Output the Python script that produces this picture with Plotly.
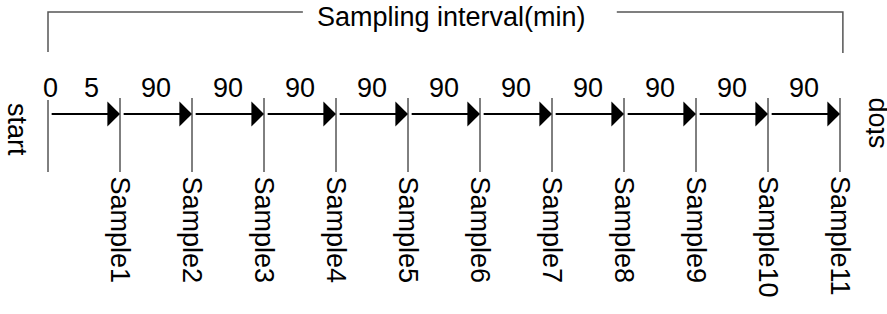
import plotly.graph_objects as go

# ---- data ----
sample_names = ["Sample1", "Sample2", "Sample3", "Sample4", "Sample5", "Sample6",
                "Sample7", "Sample8", "Sample9", "Sample10", "Sample11"]
interval_labels = ["5", "90", "90", "90", "90", "90", "90", "90", "90", "90", "90"]
start_label = "0"
title_text = "Sampling interval(min)"
end_labels = ["start", "stop"]

FONT = "Liberation Sans, Arial, sans-serif"
FS = 27

n = len(sample_names)
xs = list(range(n + 1))          # 0 = start, 1..n = samples
Y_ARROW = 114

fig = go.Figure()

# start tick line and sample tick lines
lx, ly = [], []
lx += [0, 0, None]; ly += [100, 172, None]
for i in range(1, n + 1):
    lx += [i, i, None]; ly += [98, 172, None]
fig.add_trace(go.Scatter(x=lx, y=ly, mode="lines",
                         line=dict(color="black", width=1), hoverinfo="skip"))

# bracket
xr = n + 0.04
gapL, gapR = 3.54, 7.9
fig.add_trace(go.Scatter(x=[0, 0, gapL, None, gapR, xr, xr],
                         y=[52, 12, 12, None, 12, 12, 53], mode="lines",
                         line=dict(color="#555555", width=1.5), hoverinfo="skip"))

ann = []
# arrows
for i in range(n):
    ann.append(dict(x=xs[i + 1], y=Y_ARROW, ax=xs[i] + 0.03, ay=Y_ARROW,
                    xref="x", yref="y", axref="x", ayref="y",
                    showarrow=True, arrowhead=1, arrowsize=2.1, arrowwidth=2,
                    arrowcolor="black", standoff=0, text=""))
# interval labels
ann.append(dict(x=0.03, y=88, text=start_label, showarrow=False,
                font=dict(size=FS, color="black", family=FONT)))
for i, lab in enumerate(interval_labels):
    xpos = 0.61 if i == 0 else i + 0.5
    ann.append(dict(x=xpos, y=88, text=lab, showarrow=False,
                    font=dict(size=FS, color="black", family=FONT)))
# sample labels
for i, name in enumerate(sample_names):
    ann.append(dict(x=i + 1, y=174, text=name, showarrow=False, textangle=90,
                    xanchor="center", yanchor="top",
                    font=dict(size=FS, color="black", family=FONT)))
# start / stop
ann.append(dict(x=-0.43, y=129, text=end_labels[0], showarrow=False, textangle=90,
                font=dict(size=FS, color="black", family=FONT)))
ann.append(dict(x=11.48, y=123, text=end_labels[1], showarrow=False, textangle=-90,
                font=dict(size=FS, color="black", family=FONT)))
# title
ann.append(dict(x=5.61, y=17, text=title_text, showarrow=False,
                font=dict(size=FS, color="black", family=FONT)))

fig.update_layout(
    width=887, height=314, margin=dict(l=0, r=0, t=0, b=0),
    paper_bgcolor="white", plot_bgcolor="white", showlegend=False,
    annotations=ann,
    xaxis=dict(range=[-48 / 72, (887 - 48) / 72], visible=False, fixedrange=True),
    yaxis=dict(range=[314, 0], visible=False, fixedrange=True),
)

fig.write_html("out.html", config={"displayModeBar": False},
               post_script="document.body.style.margin='0';document.body.style.overflow='hidden';")
